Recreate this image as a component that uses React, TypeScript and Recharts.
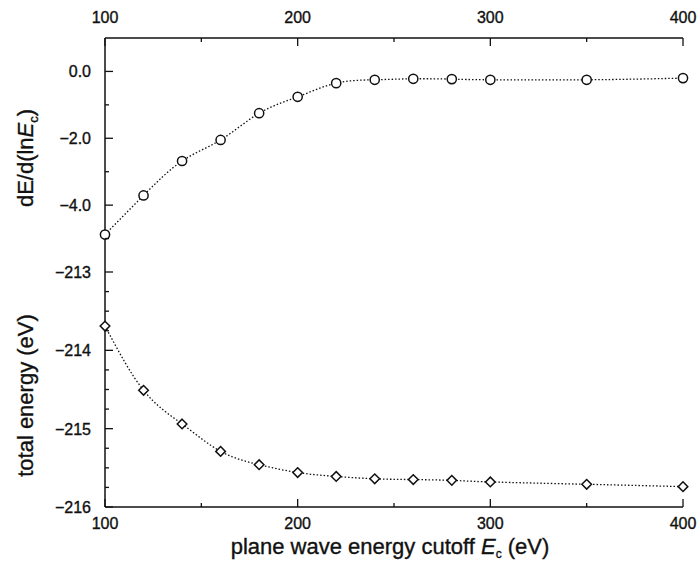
import { Line, LineChart, XAxis, YAxis } from "recharts"

const cutoff = [100, 120, 140, 160, 180, 200, 220, 240, 260, 280, 300, 350, 400]
const dEdlnE = [-4.88, -3.71, -2.68, -2.05, -1.25, -0.76, -0.35, -0.25, -0.22, -0.23, -0.25, -0.25, -0.2]
const totalEnergy = [-213.69, -214.51, -214.94, -215.29, -215.46, -215.56, -215.61, -215.64, -215.65, -215.66, -215.68, -215.71, -215.74]

const xTicks = [100, 150, 200, 250, 300, 350, 400]
const topYTicks = [-5, -4, -3, -2, -1, 0]
const bottomYTicks = [-216, -215.75, -215.5, -215.25, -215, -214.75, -214.5, -214.25, -214, -213.75, -213.5, -213.25, -213]

const topData = cutoff.map((x, i) => ({ x, y: dEdlnE[i] }))
const bottomData = cutoff.map((x, i) => ({ x, y: totalEnergy[i] }))

const font = "'Liberation Sans', Arial, sans-serif"
const ink = "#111"
const tickFont = 16
const titleFont = 22
const thicken = { stroke: ink, strokeWidth: 0.35 }

const fmt = (v: number, digits: number) => {
  const s = Math.abs(v).toFixed(digits)
  return v < 0 ? "\u2212" + s : s
}

const xTick = (side: "top" | "bottom", showLabel: boolean) => (p: any) => {
  const { x, y, payload } = p
  const v = payload.value
  const major = v % 100 === 0
  const dir = side === "top" ? 1 : -1
  const len = major ? 8 : 4
  return (
    <g>
      <line x1={x} x2={x} y1={y} y2={y + dir * len} stroke={ink} strokeWidth={1.3} />
      {showLabel && major && (
        <text x={x} y={side === "top" ? y - 15 : y + 22} textAnchor="middle" fontSize={tickFont} fontFamily={font} fill={ink} {...thicken}>
          {v}
        </text>
      )}
    </g>
  )
}

const yTick = (side: "left" | "right", isMajor: (v: number) => boolean, label: ((v: number) => string) | null) => (p: any) => {
  const { x, y, payload } = p
  const v = payload.value
  const major = isMajor(v)
  const dir = side === "left" ? 1 : -1
  const len = major ? 8 : 4
  return (
    <g>
      <line x1={x} x2={x + dir * len} y1={y} y2={y} stroke={ink} strokeWidth={1.3} />
      {label && major && (
        <text x={x - 14} y={y + 6} textAnchor="end" fontSize={tickFont} fontFamily={font} fill={ink} {...thicken}>
          {label(v)}
        </text>
      )}
    </g>
  )
}

const Circle = (p: any) => {
  const { cx, cy } = p
  return <circle cx={cx} cy={cy} r={4.6} fill="#fff" stroke={ink} strokeWidth={1.5} />
}

const Diamond = (p: any) => {
  const { cx, cy } = p
  const r = 4.8
  return (
    <polygon
      points={`${cx},${cy - r} ${cx + r},${cy} ${cx},${cy + r} ${cx - r},${cy}`}
      fill="#fff"
      stroke={ink}
      strokeWidth={1.5}
    />
  )
}

const topYLabel = (p: any) => {
  const { viewBox } = p
  const cx = 33
  const cy = viewBox.y + viewBox.height / 2 + 3
  return (
    <text x={cx} y={cy} transform={`rotate(-90, ${cx}, ${cy})`} textAnchor="middle" fontSize={titleFont} fontFamily={font} fill={ink} {...thicken}>
      dE/d(ln<tspan fontStyle="italic">E</tspan>
      <tspan fontSize={13} dy={5}>c</tspan>
      <tspan dy={-5}>)</tspan>
    </text>
  )
}

const bottomYLabel = (p: any) => {
  const { viewBox } = p
  const cx = 33
  const cy = viewBox.y + viewBox.height / 2 + 6
  return (
    <text x={cx} y={cy} transform={`rotate(-90, ${cx}, ${cy})`} textAnchor="middle" fontSize={titleFont} fontFamily={font} fill={ink} {...thicken}>
      total energy (eV)
    </text>
  )
}

const xLabel = (p: any) => {
  const { viewBox } = p
  const cx = viewBox.x + viewBox.width / 2 - 4
  return (
    <text x={cx} y={viewBox.y + 47} textAnchor="middle" fontSize={titleFont} fontFamily={font} fill={ink} {...thicken}>
      plane wave energy cutoff <tspan fontStyle="italic">E</tspan>
      <tspan fontSize={12} dy={4}>c</tspan>
      <tspan dy={-4}> (eV)</tspan>
    </text>
  )
}

const axisLine = { stroke: ink, strokeWidth: 1.5 }

export default function App() {
  return (
    <div style={{ position: "absolute", left: 0, top: 0, width: 700, height: 563, background: "#fff" }}>
      <div style={{ position: "absolute", left: 0, top: 0 }}>
        <LineChart width={700} height={280} data={topData} margin={{ top: 0, right: 17, bottom: 8, left: 0 }}>
          <XAxis
            xAxisId="t"
            orientation="top"
            dataKey="x"
            type="number"
            domain={[100, 400]}
            ticks={xTicks}
            interval={0}
            height={38}
            tickSize={0}
            tickMargin={0}
            tickLine={false}
            axisLine={axisLine}
            tick={xTick("top", true)}
          />
          <XAxis
            xAxisId="b"
            orientation="bottom"
            dataKey="x"
            type="number"
            domain={[100, 400]}
            allowDataOverflow
            ticks={xTicks}
            interval={0}
            height={0}
            tickSize={0}
            tickMargin={0}
            tickLine={false}
            axisLine={axisLine}
            tick={xTick("bottom", false)}
          />
          <YAxis
            yAxisId="l"
            orientation="left"
            type="number"
            domain={[-6, 1]}
            ticks={topYTicks}
            interval={0}
            width={105}
            tickSize={0}
            tickMargin={0}
            tickLine={false}
            axisLine={axisLine}
            tick={yTick("left", (v) => v % 2 === 0, (v) => fmt(v, 1))}
            label={topYLabel}
          />
          <YAxis
            yAxisId="r"
            orientation="right"
            type="number"
            domain={[-6, 1]}
            allowDataOverflow
            ticks={topYTicks}
            interval={0}
            width={0}
            tickSize={0}
            tickMargin={0}
            tickLine={false}
            axisLine={axisLine}
            tick={yTick("right", (v) => v % 2 === 0, null)}
          />
          <Line
            xAxisId="t"
            yAxisId="l"
            type="natural"
            dataKey="y"
            stroke={ink}
            strokeWidth={1.3}
            strokeDasharray="1.5 2"
            dot={<Circle />}
            activeDot={false}
            isAnimationActive={false}
          />
        </LineChart>
      </div>
      <div style={{ position: "absolute", left: 0, top: 264 }}>
        <LineChart width={700} height={299} data={bottomData} margin={{ top: 8, right: 17, bottom: 0, left: 0 }}>
          <XAxis
            xAxisId="t"
            orientation="top"
            dataKey="x"
            type="number"
            domain={[100, 400]}
            allowDataOverflow
            ticks={xTicks}
            interval={0}
            height={0}
            tickSize={0}
            tickMargin={0}
            tickLine={false}
            axisLine={axisLine}
            tick={xTick("top", false)}
          />
          <XAxis
            xAxisId="b"
            orientation="bottom"
            dataKey="x"
            type="number"
            domain={[100, 400]}
            ticks={xTicks}
            interval={0}
            height={56}
            tickSize={0}
            tickMargin={0}
            tickLine={false}
            axisLine={axisLine}
            tick={xTick("bottom", true)}
            label={xLabel}
          />
          <YAxis
            yAxisId="l"
            orientation="left"
            type="number"
            domain={[-216, -213]}
            ticks={bottomYTicks}
            interval={0}
            width={105}
            tickSize={0}
            tickMargin={0}
            tickLine={false}
            axisLine={axisLine}
            tick={yTick("left", (v) => Number.isInteger(v), (v) => fmt(v, 0))}
            label={bottomYLabel}
          />
          <YAxis
            yAxisId="r"
            orientation="right"
            type="number"
            domain={[-216, -213]}
            allowDataOverflow
            ticks={bottomYTicks}
            interval={0}
            width={0}
            tickSize={0}
            tickMargin={0}
            tickLine={false}
            axisLine={axisLine}
            tick={yTick("right", (v) => Number.isInteger(v), null)}
          />
          <Line
            xAxisId="b"
            yAxisId="l"
            type="natural"
            dataKey="y"
            stroke={ink}
            strokeWidth={1.3}
            strokeDasharray="1.5 2"
            dot={<Diamond />}
            activeDot={false}
            isAnimationActive={false}
          />
        </LineChart>
      </div>
    </div>
  )
}
